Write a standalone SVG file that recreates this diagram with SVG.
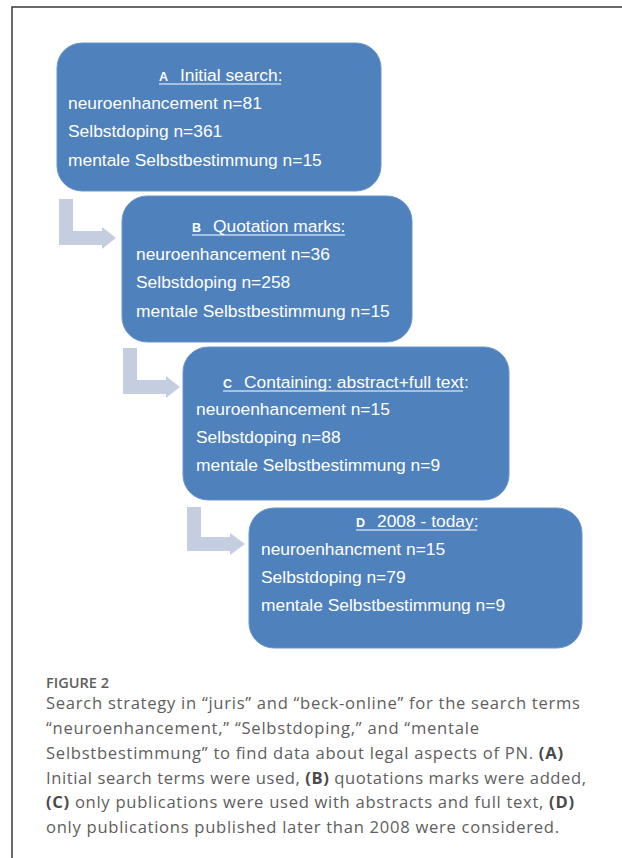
<svg xmlns="http://www.w3.org/2000/svg" width="622" height="858" viewBox="0 0 622 858">
<style>
.box{fill:#4f81bd;stroke:#6a95c9;stroke-width:1}
.t{font-family:"Liberation Sans",Arial,sans-serif;font-size:17.4px;fill:#ffffff}
.lt{font-family:"Liberation Sans",Arial,sans-serif;font-size:12.5px;font-weight:bold;fill:#ffffff}
.ul{stroke:#ffffff;stroke-width:1}
.arr{fill:#c4cee0}
.cap{font-family:"Open Sans","Noto Sans",sans-serif;font-size:16.6px;fill:#5e5e5e}
.capb{font-weight:bold;fill:#4a4a4a}
.fig{font-family:"Open Sans","Noto Sans",sans-serif;font-size:13.5px;font-weight:600;fill:#5e5e5e}
</style>
<path d="M12,858 V7 H622" fill="none" stroke="#3a3a3a" stroke-width="1.5"/>
<g id="connectors">
<path class="arr" d="M59,199 H73 V231 H102 V227 L116,238 L102,249 V245 H59 Z"/>
<path class="arr" d="M123,348 H137 V380 H166 V376 L180,387 L166,398 V394 H123 Z"/>
<path class="arr" d="M187,507 H201 V537 H230 V533 L245,544 L230,555 V551 H187 Z"/>
</g>
<g id="nodeA">
<rect class="box" x="57" y="43" width="324" height="148" rx="25"/>
<text class="lt" x="159" y="81">A</text>
<text class="t" x="180" y="81">Initial search:</text>
<line class="ul" x1="159" y1="84" x2="281" y2="84"/>
<text class="t" x="68" y="109">neuroenhancement n=81</text>
<text class="t" x="68" y="137">Selbstdoping n=361</text>
<text class="t" x="68" y="166">mentale Selbstbestimmung n=15</text>
</g>
<g id="nodeB">
<rect class="box" x="122" y="196" width="290" height="146" rx="25"/>
<text class="lt" x="192" y="232">B</text>
<text class="t" x="213" y="232">Quotation marks:</text>
<line class="ul" x1="192" y1="235" x2="345" y2="235"/>
<text class="t" x="136" y="260">neuroenhancement n=36</text>
<text class="t" x="136" y="288">Selbstdoping n=258</text>
<text class="t" x="136" y="317">mentale Selbstbestimmung n=15</text>
</g>
<g id="nodeC">
<rect class="box" x="183" y="347" width="326" height="153" rx="25"/>
<text class="lt" x="223" y="388">C</text>
<text class="t" x="244" y="388">Containing: abstract+full text:</text>
<line class="ul" x1="223" y1="391" x2="463" y2="391"/>
<text class="t" x="196" y="415">neuroenhancement n=15</text>
<text class="t" x="196" y="443">Selbstdoping n=88</text>
<text class="t" x="196" y="471">mentale Selbstbestimmung n=9</text>
</g>
<g id="nodeD">
<rect class="box" x="249" y="508" width="333" height="140" rx="25"/>
<text class="lt" x="356" y="527">D</text>
<text class="t" x="377" y="527">2008 - today:</text>
<line class="ul" x1="356" y1="530" x2="477" y2="530"/>
<text class="t" x="261" y="555">neuroenhancment n=15</text>
<text class="t" x="261" y="583">Selbstdoping n=79</text>
<text class="t" x="261" y="611">mentale Selbstbestimmung n=9</text>
</g>
<g id="caption">
<text class="fig" x="46" y="688" textLength="63" lengthAdjust="spacingAndGlyphs">FIGURE 2</text>
<text class="cap" x="46" y="709" textLength="534">Search strategy in “juris” and “beck-online” for the search terms</text>
<text class="cap" x="46" y="734" textLength="433">“neuroenhancement,” “Selbstdoping,” and “mentale</text>
<text class="cap" x="46" y="759" textLength="517">Selbstbestimmung” to find data about legal aspects of PN. <tspan class="capb">(A)</tspan></text>
<text class="cap" x="46" y="784" textLength="540">Initial search terms were used, <tspan class="capb">(B)</tspan> quotations marks were added,</text>
<text class="cap" x="46" y="808" textLength="528"><tspan class="capb">(C)</tspan> only publications were used with abstracts and full text, <tspan class="capb">(D)</tspan></text>
<text class="cap" x="46" y="833" textLength="513">only publications published later than 2008 were considered.</text>
</g>
</svg>
